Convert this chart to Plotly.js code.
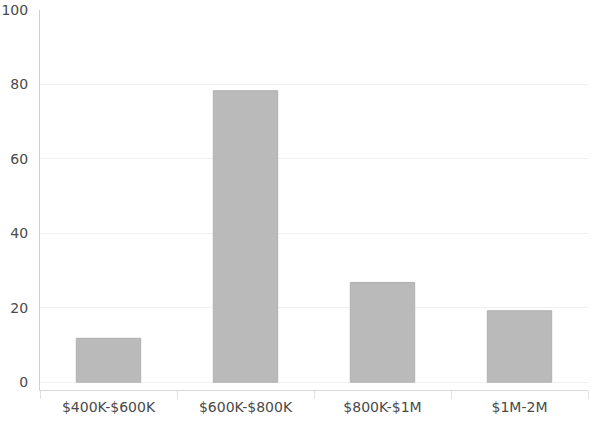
<!DOCTYPE html>
<html>
<head>
<meta charset="utf-8">
<script src="https://cdn.plot.ly/plotly-3.0.1.min.js"></script>
<style>html,body{margin:0;padding:0;background:#fff;}#chart{width:606px;height:428px;}</style>
</head>
<body>
<div id="chart"></div>
<script>
const categories = ["$400K-$600K", "$600K-$800K", "$800K-$1M", "$1M-2M"];
const values = [11.8, 78.3, 26.8, 19.2];
const yTicks = [0, 20, 40, 60, 80, 100];

const trace = {
  type: "bar",
  x: categories,
  y: values,
  marker: {color: "#bababa", line: {color: "#b0b0b0", width: 1}},
  width: 0.47,
  hoverinfo: "x+y"
};

const layout = {
  width: 606, height: 428,
  margin: {l: 40, r: 18, t: 10, b: 38},
  paper_bgcolor: "#fff", plot_bgcolor: "#fff",
  showlegend: false,
  font: {family: "DejaVu Sans, Verdana, sans-serif", size: 13, color: "#555"},
  xaxis: {
    type: "category",
    showgrid: false,
    showline: true, linecolor: "#d8d8d8", linewidth: 1,
    ticks: "outside", tickson: "boundaries", ticklen: 8, tickcolor: "#e0e0e0",
    ticklabelstandoff: 4,
    tickfont: {size: 14, color: "#4a4a4a"},
    zeroline: false
  },
  yaxis: {
    range: [-2.1, 100],
    tickvals: yTicks,
    ticktext: yTicks.map(String),
    showgrid: true, gridcolor: "#f0f0f0", gridwidth: 1,
    showline: true, linecolor: "#cfcfcf", linewidth: 1,
    zeroline: false,
    ticks: "", ticklabelstandoff: 8,
    ticklabeloverflow: "allow",
    tickfont: {size: 14, color: "#4a4a4a"}
  },
  bargap: 0.53
};

Plotly.newPlot("chart", [trace], layout, {displayModeBar: false, staticPlot: true});
</script>
</body>
</html>
